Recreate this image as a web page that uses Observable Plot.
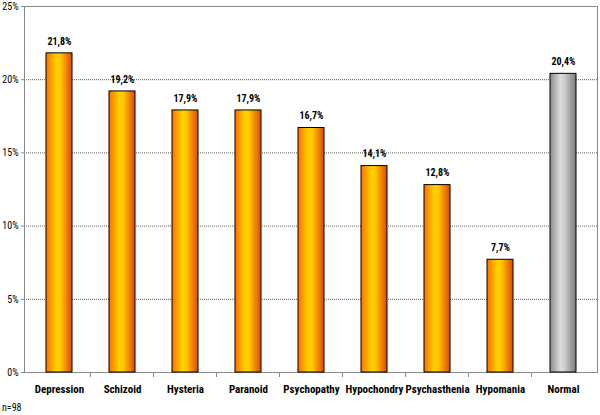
<!DOCTYPE html>
<html><head><meta charset="utf-8">
<script src="https://cdn.jsdelivr.net/npm/d3@7"></script>
<script src="https://cdn.jsdelivr.net/npm/@observablehq/plot@0.6"></script>
<style>
body{margin:0;background:#fff;}
#chart{position:relative;width:600px;height:415px;}
#chart svg text{font-stretch:condensed;}
#note{position:absolute;left:2px;top:402px;font:10px Roboto,sans-serif;font-stretch:condensed;color:#000;}
</style>
</head><body>
<div id="chart"></div>
<div id="note">n=98</div>
<script>
const categories = ["Depression","Schizoid","Hysteria","Paranoid","Psychopathy","Hypochondry","Psychasthenia","Hypomania","Normal"];
const values = [21.8,19.2,17.9,17.9,16.7,14.1,12.8,7.7,20.4];
const labels = ["21,8%","19,2%","17,9%","17,9%","16,7%","14,1%","12,8%","7,7%","20,4%"];
const yTicks = [0,5,10,15,20,25];
const yTickLabels = ["0%","5%","10%","15%","20%","25%"];

const data = categories.map((c,i)=>({cat:c, v:values[i], label:labels[i], grp: c==="Normal" ? "url(#gGray)" : "url(#gOrange)"}));
const font = 'Roboto,sans-serif';

const plot = Plot.plot({
  width:600, height:415,
  marginLeft:24, marginRight:3, marginTop:6, marginBottom:43,
  style:{fontFamily:font, fontSize:"10px", color:"#000", background:"#fff"},
  x:{domain:categories, paddingInner:0.59, paddingOuter:0.295, label:null},
  y:{domain:[0,25], label:null},
  marks:[
    Plot.gridY(yTicks,{stroke:"#333", strokeOpacity:0.8, strokeDasharray:"1,1"}),
    Plot.frame({stroke:"#888"}),
    Plot.axisY(yTicks,{tickFormat:d=>yTickLabels[yTicks.indexOf(d)], tickSize:3, tickPadding:3, stroke:"#888", fontSize:10}),
    Plot.axisX({tickSize:0, tickPadding:13, fontWeight:"bold", fontSize:11}),
    Plot.barY(data,{x:"cat", y:"v", fill:"grp", stroke:"#000", strokeWidth:1}),
    Plot.text(data,{x:"cat", y:"v", text:"label", dy:-12, fontWeight:"bold", fontSize:10})
  ]
});

const svg = d3.select(plot);
const defs = svg.insert("defs",":first-child");
const g1 = defs.append("linearGradient").attr("id","gOrange").attr("x1","0").attr("x2","1").attr("y1","0").attr("y2","0");
[["0%","#ff7000"],["40%","#ffd200"],["55%","#ffc800"],["100%","#e04800"]].forEach(([o,c])=>g1.append("stop").attr("offset",o).attr("stop-color",c));
const g2 = defs.append("linearGradient").attr("id","gGray").attr("x1","0").attr("x2","1").attr("y1","0").attr("y2","0");
[["0%","#8a8a8a"],["40%","#dcdcdc"],["55%","#d0d0d0"],["100%","#7a7a7a"]].forEach(([o,c])=>g2.append("stop").attr("offset",o).attr("stop-color",c));

// tick marks between categories on the x axis, from the band scale
const xs = plot.scale("x"), ys = plot.scale("y");
const y0 = ys.apply(0);
const bounds = categories.map(c => xs.apply(c) + xs.bandwidth/2 - xs.step/2).slice(1);
svg.append("g").selectAll("line").data(bounds).join("line")
  .attr("x1",d=>d).attr("x2",d=>d).attr("y1",y0).attr("y2",y0+5)
  .attr("stroke","#888");

document.getElementById("chart").appendChild(plot);
</script>
</body></html>
